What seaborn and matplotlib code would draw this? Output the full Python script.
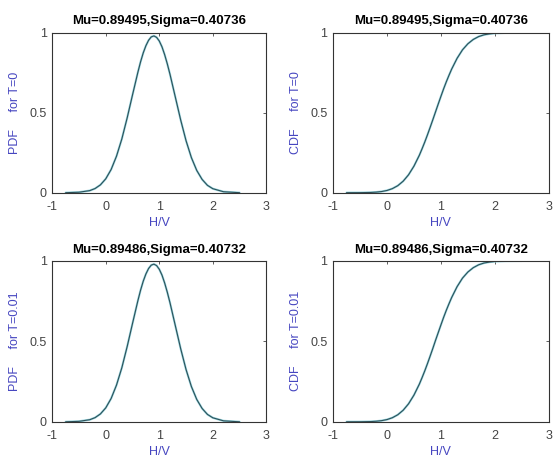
import numpy as np
import pandas as pd
import matplotlib
matplotlib.use("Agg")
import matplotlib.pyplot as plt
import seaborn as sns

# values
hv = [-0.75, -0.5, -0.3, -0.2, -0.1, 0.0, 0.1, 0.2, 0.3, 0.4, 0.5, 0.6, 0.65, 0.7, 0.75,
      0.8, 0.85, 0.9, 0.95, 1.0, 1.05, 1.1, 1.15, 1.2, 1.3, 1.4, 1.5, 1.6, 1.7, 1.8,
      1.9, 2.0, 2.2, 2.5]

pdf_t0 = [0.000, 0.003, 0.013, 0.026, 0.049, 0.087, 0.145, 0.228, 0.336, 0.468, 0.612,
          0.753, 0.818, 0.874, 0.919, 0.953, 0.974, 0.980, 0.971, 0.948, 0.912, 0.863,
          0.805, 0.740, 0.597, 0.454, 0.325, 0.219, 0.139, 0.083, 0.046, 0.025, 0.006,
          0.000]
cdf_t0 = [0.000, 0.0003, 0.0016, 0.0036, 0.0072, 0.0139, 0.0254, 0.0438, 0.0719, 0.112,
          0.166, 0.234, 0.274, 0.316, 0.361, 0.408, 0.456, 0.505, 0.554, 0.602, 0.649,
          0.693, 0.734, 0.773, 0.840, 0.893, 0.931, 0.958, 0.976, 0.987, 0.993, 0.9967,
          0.9993, 1.000]

pdf_t001 = [0.000, 0.003, 0.013, 0.026, 0.049, 0.087, 0.145, 0.228, 0.336, 0.468, 0.612,
            0.753, 0.818, 0.874, 0.919, 0.953, 0.974, 0.980, 0.971, 0.948, 0.912, 0.863,
            0.805, 0.740, 0.597, 0.454, 0.325, 0.219, 0.139, 0.083, 0.046, 0.025, 0.006,
            0.000]
cdf_t001 = [0.000, 0.0003, 0.0016, 0.0036, 0.0072, 0.0139, 0.0254, 0.0438, 0.0719, 0.112,
            0.166, 0.234, 0.274, 0.316, 0.361, 0.408, 0.456, 0.506, 0.554, 0.602, 0.649,
            0.693, 0.734, 0.773, 0.840, 0.893, 0.931, 0.958, 0.976, 0.987, 0.993, 0.9967,
            0.9993, 1.000]

titles = ["Mu=0.89495,Sigma=0.40736", "Mu=0.89495,Sigma=0.40736",
          "Mu=0.89486,Sigma=0.40732", "Mu=0.89486,Sigma=0.40732"]
ylabels = ["PDF     for T=0", "CDF     for T=0",
           "PDF     for T=0.01", "CDF     for T=0.01"]
series = [pdf_t0, cdf_t0, pdf_t001, cdf_t001]

sns.set_theme(style="white")
plt.rcParams['font.family'] = ['Liberation Sans', 'DejaVu Sans']

fig = plt.figure(figsize=(5.56, 4.61), dpi=100)
positions = [
    [0.094, 0.582, 0.385, 0.347],
    [0.599, 0.582, 0.388, 0.347],
    [0.094, 0.085, 0.385, 0.349],
    [0.599, 0.085, 0.388, 0.349],
]

label_blue = "#4646c0"
for pos, title, ylab, vals in zip(positions, titles, ylabels, series):
    ax = fig.add_axes(pos)
    df = pd.DataFrame({"hv": hv, "val": vals})
    sns.lineplot(data=df, x="hv", y="val", ax=ax, color="#9ad6e0", linewidth=1.6)
    sns.lineplot(data=df, x="hv", y="val", ax=ax, color="#2c5058", linewidth=0.8)
    ax.set_xlim(-1, 3)
    ax.set_ylim(0, 1)
    ax.set_xticks([-1, 0, 1, 2, 3])
    ax.set_yticks([0, 0.5, 1])
    ax.set_xticklabels(["-1", "0", "1", "2", "3"])
    ax.set_yticklabels(["0", "0.5", "1"])
    ax.tick_params(direction="in", length=2.5, width=0.6, labelsize=9,
                   colors="#444444", top=True, right=True)
    ax.tick_params(axis="x", pad=6)
    ax.tick_params(axis="y", pad=4)
    for s in ax.spines.values():
        s.set_color("#333333")
        s.set_linewidth(0.8)
    ax.set_title(title, fontsize=9.5, fontweight="bold", pad=6, color="black")
    ax.set_xlabel("H/V", fontsize=9, color=label_blue, labelpad=3)
    ax.set_ylabel(ylab, fontsize=9, color=label_blue, labelpad=6)

fig.savefig("out.png", dpi=100)
